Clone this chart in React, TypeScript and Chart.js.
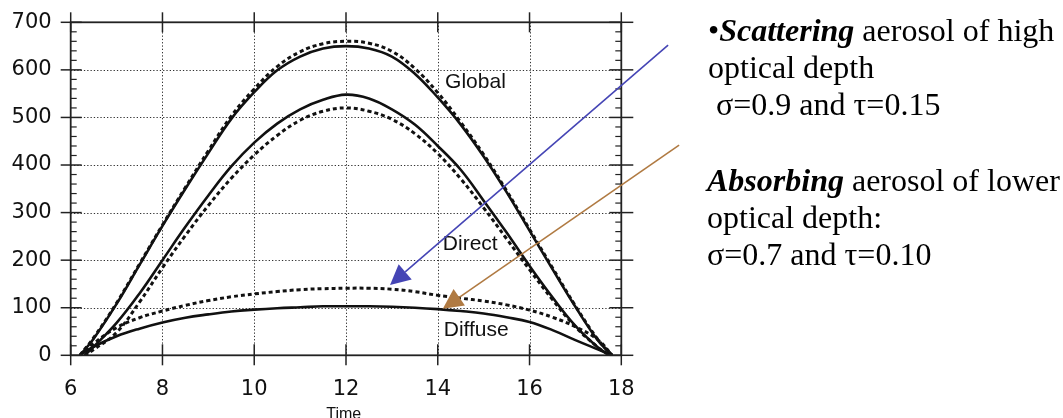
import React, { useEffect, useRef } from "react";
import { Chart, registerables } from "chart.js";
Chart.register(...registerables);

// ---- data ----
const hoursG = [6.2, 6.5, 7, 7.5, 8, 8.5, 9, 9.5, 10, 10.5, 11, 11.5, 12, 12.5, 13, 13.5, 14, 14.5, 15, 15.5, 16, 16.5, 17, 17.5, 17.8];
const hoursD = [6.3, 6.5, 7, 7.5, 8, 8.5, 9, 9.5, 10, 10.5, 11, 11.5, 12, 12.5, 13, 13.5, 14, 14.5, 15, 15.5, 16, 16.5, 17, 17.5, 17.75];

const globalSolid = [0, 35, 108, 190, 272, 350, 425, 497, 553, 599, 628, 645, 650, 645, 628, 592, 542, 485, 418, 343, 262, 181, 102, 30, 0];
const globalDotted = [0, 37, 110, 192, 274, 353, 430, 503, 560, 607, 638, 655, 660, 656, 639, 603, 552, 490, 422, 346, 265, 184, 104, 32, 0];
const directSolid = [0, 18, 68, 130, 200, 270, 336, 397, 447, 487, 517, 537, 548, 540, 517, 485, 440, 390, 325, 258, 188, 122, 62, 16, 0];
const directDotted = [0, 12, 48, 112, 184, 252, 315, 372, 421, 462, 494, 513, 520, 513, 496, 466, 424, 371, 310, 245, 180, 117, 60, 16, 0];
const diffuseDotted = [0, 25, 58, 79, 93, 105, 115, 123, 129, 134, 138, 140, 141, 141, 139, 134, 126, 120, 114, 106, 95, 80, 60, 32, 0];
const diffuseSolid = [0, 18, 40, 56, 69, 79, 86, 92, 96, 99, 101, 103, 103, 103, 102, 100, 97, 93, 88, 80, 70, 53, 32, 12, 0];

const xTicks = [6, 8, 10, 12, 14, 16, 18];
const yTicks = [0, 100, 200, 300, 400, 500, 600, 700];
const yMinorStep = 20;

const curveLabels = [
  { text: "Global", t: 14.16, v: 574 },
  { text: "Direct", t: 14.11, v: 234 },
  { text: "Diffuse", t: 14.13, v: 53 },
];

const arrows = [
  { color: "#4545b5", from: [19.02, 652], to: [12.96, 148] },
  { color: "#b07a42", from: [19.26, 442], to: [14.11, 98] },
];

const pts = (xs: number[], ys: number[]) => xs.map((x, i) => ({ x, y: ys[i] }));

const framePlugin = {
  id: "frame",
  beforeDatasetsDraw(chart: any) {
    const { ctx, chartArea, scales } = chart;
    const { left, right, top, bottom } = chartArea;
    const x = scales.x, y = scales.y;
    ctx.save();
    ctx.strokeStyle = "#333";
    ctx.lineWidth = 1;
    ctx.setLineDash([1.3, 2]);
    xTicks.slice(1, -1).forEach((v) => {
      const px = Math.round(x.getPixelForValue(v)) + 0.5;
      ctx.beginPath(); ctx.moveTo(px, top); ctx.lineTo(px, bottom); ctx.stroke();
    });
    yTicks.slice(1, -1).forEach((v) => {
      const py = Math.round(y.getPixelForValue(v)) + 0.5;
      ctx.beginPath(); ctx.moveTo(left, py); ctx.lineTo(right, py); ctx.stroke();
    });
    ctx.restore();
  },
  afterDatasetsDraw(chart: any) {
    const { ctx, chartArea, scales } = chart;
    const { left, right, top, bottom } = chartArea;
    const x = scales.x, y = scales.y;
    ctx.save();
    ctx.strokeStyle = "#222";
    ctx.setLineDash([]);
    ctx.lineWidth = 1.8;
    ctx.strokeRect(left, top, right - left, bottom - top);
    ctx.lineWidth = 1.5;
    const seg = (a: number, b: number, c: number, d: number) => {
      ctx.beginPath(); ctx.moveTo(a, b); ctx.lineTo(c, d); ctx.stroke();
    };
    xTicks.forEach((v) => {
      const px = x.getPixelForValue(v);
      seg(px, bottom - 11, px, bottom + 10);
      seg(px, top - 10, px, top + 10);
    });
    yTicks.forEach((v) => {
      const py = y.getPixelForValue(v);
      seg(left - 10, py, left + 11, py);
      seg(right - 12, py, right + 12, py);
    });
    ctx.lineWidth = 1.2;
    for (let v = 0; v <= 700; v += yMinorStep) {
      if (v % 100 === 0) continue;
      const py = y.getPixelForValue(v);
      seg(left, py, left + 6, py);
      seg(right - 6, py, right, py);
    }
    ctx.restore();
  },
  afterDraw(chart: any) {
    const { ctx, scales } = chart;
    const x = scales.x, y = scales.y;
    ctx.save();
    ctx.fillStyle = "#111";
    ctx.font = '21px "Liberation Sans"';
    ctx.textAlign = "left";
    ctx.textBaseline = "middle";
    curveLabels.forEach((l) => {
      ctx.fillText(l.text, x.getPixelForValue(l.t), y.getPixelForValue(l.v));
    });
    ctx.font = '16px "Liberation Sans"';
    ctx.textAlign = "center";
    ctx.textBaseline = "alphabetic";
    ctx.fillText("Time", x.getPixelForValue(11.95), 419);

    arrows.forEach((a) => {
      const x0 = x.getPixelForValue(a.from[0]), y0 = y.getPixelForValue(a.from[1]);
      const x1 = x.getPixelForValue(a.to[0]), y1 = y.getPixelForValue(a.to[1]);
      const ang = Math.atan2(y1 - y0, x1 - x0);
      const hl = 20, hw = 10;
      const bx = x1 - hl * Math.cos(ang), by = y1 - hl * Math.sin(ang);
      ctx.strokeStyle = a.color;
      ctx.fillStyle = a.color;
      ctx.lineWidth = 1.6;
      ctx.beginPath(); ctx.moveTo(x0, y0); ctx.lineTo(bx, by); ctx.stroke();
      ctx.beginPath();
      ctx.moveTo(x1, y1);
      ctx.lineTo(bx + hw * Math.sin(ang), by - hw * Math.cos(ang));
      ctx.lineTo(bx - hw * Math.sin(ang), by + hw * Math.cos(ang));
      ctx.closePath();
      ctx.fill();
    });
    ctx.restore();
  },
};

const App = () => {
  const ref = useRef<HTMLCanvasElement>(null);
  useEffect(() => {
    const solid = (data: any) => ({
      data, borderColor: "#111", borderWidth: 2.6, pointRadius: 0, fill: false,
      tension: 0.4,
    });
    const dotted = (data: any) => ({
      data, borderColor: "#111", borderWidth: 3, pointRadius: 0, fill: false,
      borderDash: [4, 3], tension: 0.4,
    });
    const chart = new Chart(ref.current!, {
      type: "line",
      data: {
        datasets: [
          solid(pts(hoursG, globalSolid)),
          dotted(pts(hoursG, globalDotted)),
          solid(pts(hoursD, directSolid)),
          dotted(pts(hoursD, directDotted)),
          dotted(pts(hoursG, diffuseDotted)),
          solid(pts(hoursG, diffuseSolid)),
        ],
      },
      options: {
        responsive: false,
        animation: false,
        events: [],
        layout: { padding: { top: 22.3, right: 441.7, bottom: 0, left: 0 } },
        plugins: { legend: { display: false }, tooltip: { enabled: false } },
        scales: {
          x: {
            type: "linear", min: 6, max: 18,
            ticks: { stepSize: 2, color: "#111", padding: 22, maxRotation: 0, font: { family: "DejaVu Sans", size: 21 } },
            grid: { display: false, drawTicks: false },
            border: { display: false },
            afterFit: (s: any) => { s.height = 62.7; s.paddingLeft = 0; s.paddingRight = 0; },
          },
          y: {
            type: "linear", min: 0, max: 700,
            ticks: { stepSize: 100, color: "#111", padding: 19, font: { family: "DejaVu Sans", size: 21 } },
            grid: { display: false, drawTicks: false },
            border: { display: false },
            afterFit: (s: any) => { s.width = 70.7; s.paddingTop = 0; s.paddingBottom = 0; },
          },
        },
      },
      plugins: [framePlugin],
    } as any);
    return () => chart.destroy();
  }, []);

  const textStyle: React.CSSProperties = {
    position: "absolute",
    font: '32px "Liberation Serif", "Times New Roman", serif',
    lineHeight: "37px",
    whiteSpace: "pre",
    color: "#000",
  };

  return (
    <div style={{ position: "absolute", left: 0, top: 0, width: 1063, height: 418, background: "#fff", overflow: "hidden" }}>
      <canvas ref={ref} width={1063} height={418} style={{ position: "absolute", left: 0, top: 0, width: 1063, height: 418 }} />
      <div style={{ ...textStyle, left: 708, top: 12.4 }}>
        <div>•<b><i>Scattering</i></b> aerosol of high</div>
        <div>optical depth</div>
        <div> σ=0.9 and τ=0.15</div>
      </div>
      <div style={{ ...textStyle, left: 707, top: 162.4 }}>
        <div><b><i>Absorbing</i></b> aerosol of lower</div>
        <div>optical depth:</div>
        <div>σ=0.7 and τ=0.10</div>
      </div>
    </div>
  );
};

export default App;
